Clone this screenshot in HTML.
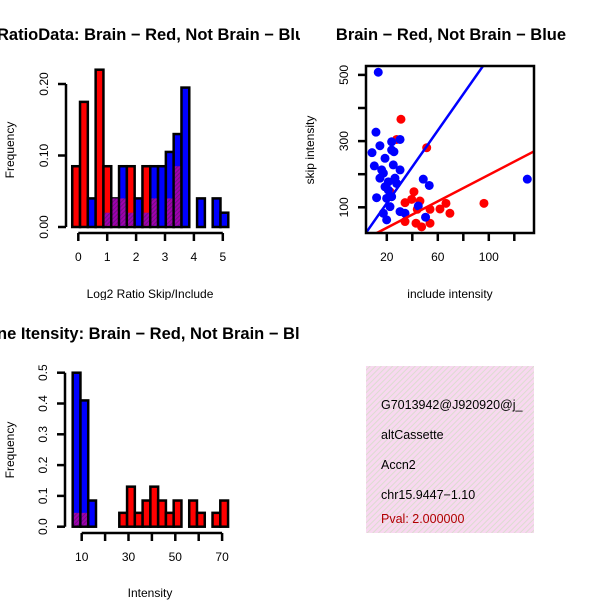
<!DOCTYPE html>
<html><head><meta charset="utf-8"><style>
html,body{margin:0;padding:0;background:#fff}
svg{display:block;font-family:"Liberation Sans",sans-serif}
</style></head><body>
<svg id="c" width="600" height="600" viewBox="0 0 600 600">
<defs>
<clipPath id="cl1"><rect x="0" y="0" width="300" height="300"/></clipPath>
<clipPath id="cl3"><rect x="0" y="300" width="300" height="300"/></clipPath>
<clipPath id="clb"><rect x="366" y="366" width="168" height="167"/></clipPath>
<clipPath id="cls"><rect x="366" y="66" width="168" height="167"/></clipPath>
<pattern id="hatch" width="4" height="4" patternUnits="userSpaceOnUse" patternTransform="rotate(45)">
<rect width="4" height="4" fill="#f8d8f0"/><rect width="1" height="4" fill="#dcdcd0"/></pattern>
<pattern id="ph" width="3" height="3" patternUnits="userSpaceOnUse" patternTransform="rotate(45)">
<rect width="3" height="3" fill="#a000b0"/><rect width="1" height="3" fill="#701080"/></pattern>
</defs>
<g id="p1" clip-path="url(#cl1)"></g>
<g id="p2"></g>
<g id="p3" clip-path="url(#cl3)"></g>
<g id="legend-box-group">
<rect x="366" y="366" width="168" height="167" fill="url(#hatch)"/>
<g clip-path="url(#clb)" font-size="12.5">
<text x="381" y="409">G7013942@J920920@j_</text>
<text x="381" y="439">altCassette</text>
<text x="381" y="469">Accn2</text>
<text x="381" y="499">chr15.9447−1.10</text>
<text x="381" y="523" fill="#b00000">Pval: 2.000000</text>
</g></g>
</svg>
<script>
// Histogram 1 data (Log2 ratio)
const h1Red  = [0.085,0.175,0,0.22,0.085,0.04,0.04,0.085,0,0.085,0.04,0,0.04,0.085,0,0,0,0,0,0];
const h1Blue = [0,0,0.04,0,0.02,0.04,0.085,0.02,0.04,0.02,0.085,0.085,0.105,0.13,0.195,0,0.04,0,0.04,0.02];
const h1XTicks = [0,1,2,3,4,5];
const h1YTicks = ["0.00","0.10","0.20"];
const h1YVals = [0,0.1,0.2];
// Scatter data
const blueX = [13.3,11.5,8.4,14.6,23.8,30.4,25.6,18.6,10.2,25.1,17.3,30.4,14.6,21.2,26.4,18.6,27.7,12.0,19.9,23.8,22.5,17.3,19.9,30.4,34.3,44.7,48.6,53.3,50.4,130.2,23.8,21.2,16];
const blueY = [508,327,265,286,298,305,268,248,225,228,203,213,188,177,188,162,172,129,127,132,102,82,62,87,82,104,185,166,70,185,273,152,213];
const redX = [31.1,27.7,51.3,22.5,34.3,41.3,46.0,39.5,53.9,61.7,66.4,69.5,96.2,42.9,47.3,53.9,34.3,43.9];
const redY = [366,305,280,147,114,147,119,124,94,95,112,82,112,52,41,52,57,94];
const blueLine = [2.8,5.49];
const redLine = [-2,2.0];
const sXTicks = [20,40,60,80,100,120];
const sXLabels = [20,60,100];
const sYTicks = [100,200,300,400,500];
const sYLabels = [100,300,500];
// Histogram 3 data (Intensity)
const h3Red  = [0.045,0.045,0,0,0,0,0.045,0.13,0.045,0.085,0.13,0.085,0.045,0.085,0,0.085,0.045,0,0.045,0.085];
const h3Blue = [0.5,0.41,0.085,0,0,0,0,0,0,0,0,0,0,0,0,0,0,0,0,0];
const h3XTicks = [10,20,30,40,50,60,70];
const h3XLabels = [10,30,50,70];
const h3YVals = [0,0.1,0.2,0.3,0.4,0.5];

const NS="http://www.w3.org/2000/svg";
function mk(p,t,a,txt){const e=document.createElementNS(NS,t);for(const k in a)e.setAttribute(k,a[k]);if(txt!==undefined)e.textContent=txt;p.appendChild(e);return e;}

function hist(g,red,blue,x0,binW,xs,ys,name){
  for(let i=0;i<red.length;i++){
    const l=xs(x0+i*binW),r=xs(x0+(i+1)*binW);
    const rv=red[i],bv=blue[i];
    const lo=Math.min(rv,bv),hi=Math.max(rv,bv);
    if(hi<=0)continue;
    const col=rv>=bv?'#ff0000':'#0000ff';
    const b=mk(g,'rect',{x:l,y:ys(hi),width:r-l,height:ys(0)-ys(hi),fill:col,stroke:'#000','stroke-width':2.5});
    
    
    if(lo>0){
      const o=mk(g,'rect',{x:l+1.2,y:ys(lo),width:r-l-2.4,height:ys(0)-ys(lo)-1.2,fill:'url(#ph)'});
      
      
    }
  }
}
function ytickLabel(g,x,y,t){
  const e=mk(g,'text',{x:x,y:y,transform:`rotate(-90 ${x} ${y})`,'text-anchor':'middle','font-size':12},t);
  
  
}

// Panel 1
(function(){
  const g=document.getElementById('p1');
  const xs=v=>78.3+v*28.9, ys=v=>227-v*715;
  const t=mk(g,'text',{x:-3,y:40,'font-size':16.5,'font-weight':'bold'},'RatioData: Brain − Red, Not Brain − Blue');
  
  hist(g,h1Red,h1Blue,-0.21,0.27,xs,ys,'hist1');
  mk(g,'line',{x1:66,y1:ys(0),x2:66,y2:ys(0.2),stroke:'#000','stroke-width':2.5});
  h1YVals.forEach((v,i)=>{mk(g,'line',{x1:58,y1:ys(v),x2:66,y2:ys(v),stroke:'#000','stroke-width':2.5});ytickLabel(g,48,ys(v),h1YTicks[i]);});
  mk(g,'line',{x1:xs(0),y1:233,x2:xs(5),y2:233,stroke:'#000','stroke-width':2.5});
  h1XTicks.forEach(v=>{mk(g,'line',{x1:xs(v),y1:233,x2:xs(v),y2:241,stroke:'#000','stroke-width':2.5});
    const e=mk(g,'text',{x:xs(v),y:261,'text-anchor':'middle','font-size':12},String(v));
    });
  const xl=mk(g,'text',{x:150,y:298,'text-anchor':'middle','font-size':12},'Log2 Ratio Skip/Include');
  
  const yl=mk(g,'text',{x:14,y:150,transform:'rotate(-90 14 150)','text-anchor':'middle','font-size':12},'Frequency');
  
})();

// Panel 2 scatter
(function(){
  const g=document.getElementById('p2');
  const xs=v=>361.3+v*1.275, ys=v=>240.4-v*0.331;
  const t=mk(g,'text',{x:451,y:40,'text-anchor':'middle','font-size':16.5,'font-weight':'bold'},'Brain − Red, Not Brain − Blue');
  
  const c=mk(g,'g',{'clip-path':'url(#cls)'});
  redX.forEach((x,i)=>{const p=mk(c,'circle',{cx:xs(x),cy:ys(redY[i]),r:4.5,fill:'#ff0000'});
    });
  blueX.forEach((x,i)=>{const p=mk(c,'circle',{cx:xs(x),cy:ys(blueY[i]),r:4.5,fill:'#0000ff'});
    });
  const bl=mk(c,'line',{x1:xs(0),y1:ys(blueLine[0]),x2:xs(140),y2:ys(blueLine[0]+blueLine[1]*140),stroke:'#0000ff','stroke-width':2.5});
  
  const rl=mk(c,'line',{x1:xs(0),y1:ys(redLine[0]),x2:xs(140),y2:ys(redLine[0]+redLine[1]*140),stroke:'#ff0000','stroke-width':2.5});
  
  const box=mk(g,'rect',{x:366,y:66,width:168,height:167,fill:'none',stroke:'#000','stroke-width':2.5});
  
  sXTicks.forEach(v=>mk(g,'line',{x1:xs(v),y1:233,x2:xs(v),y2:241,stroke:'#000','stroke-width':2.5}));
  sXLabels.forEach(v=>{const e=mk(g,'text',{x:xs(v),y:261,'text-anchor':'middle','font-size':12},String(v));
    });
  sYTicks.forEach(v=>mk(g,'line',{x1:358,y1:ys(v),x2:366,y2:ys(v),stroke:'#000','stroke-width':2.5}));
  sYLabels.forEach(v=>ytickLabel(g,348,ys(v),String(v)));
  const xl=mk(g,'text',{x:450,y:298,'text-anchor':'middle','font-size':12},'include intensity');
  
  const yl=mk(g,'text',{x:314,y:150,transform:'rotate(-90 314 150)','text-anchor':'middle','font-size':12},'skip intensity');
  
})();

// Panel 3
(function(){
  const g=document.getElementById('p3');
  const xs=v=>81.7+(v-10)*2.34, ys=v=>526.7-v*308;
  const t=mk(g,'text',{x:-3,y:339,'font-size':16.5,'font-weight':'bold'},'ne Itensity: Brain − Red, Not Brain − Blue');
  
  hist(g,h3Red,h3Blue,6.15,3.32,xs,ys,'hist3');
  mk(g,'line',{x1:65,y1:ys(0),x2:65,y2:ys(0.5),stroke:'#000','stroke-width':2.5});
  h3YVals.forEach(v=>{mk(g,'line',{x1:57,y1:ys(v),x2:65,y2:ys(v),stroke:'#000','stroke-width':2.5});ytickLabel(g,47,ys(v),v.toFixed(1));});
  mk(g,'line',{x1:xs(10),y1:533,x2:xs(70),y2:533,stroke:'#000','stroke-width':2.5});
  h3XTicks.forEach(v=>mk(g,'line',{x1:xs(v),y1:533,x2:xs(v),y2:541,stroke:'#000','stroke-width':2.5}));
  h3XLabels.forEach(v=>{const e=mk(g,'text',{x:xs(v),y:561,'text-anchor':'middle','font-size':12},String(v));
    });
  const xl=mk(g,'text',{x:150,y:597,'text-anchor':'middle','font-size':12},'Intensity');
  
  const yl=mk(g,'text',{x:14,y:450,transform:'rotate(-90 14 450)','text-anchor':'middle','font-size':12},'Frequency');
  
})();
</script>
</body></html>
